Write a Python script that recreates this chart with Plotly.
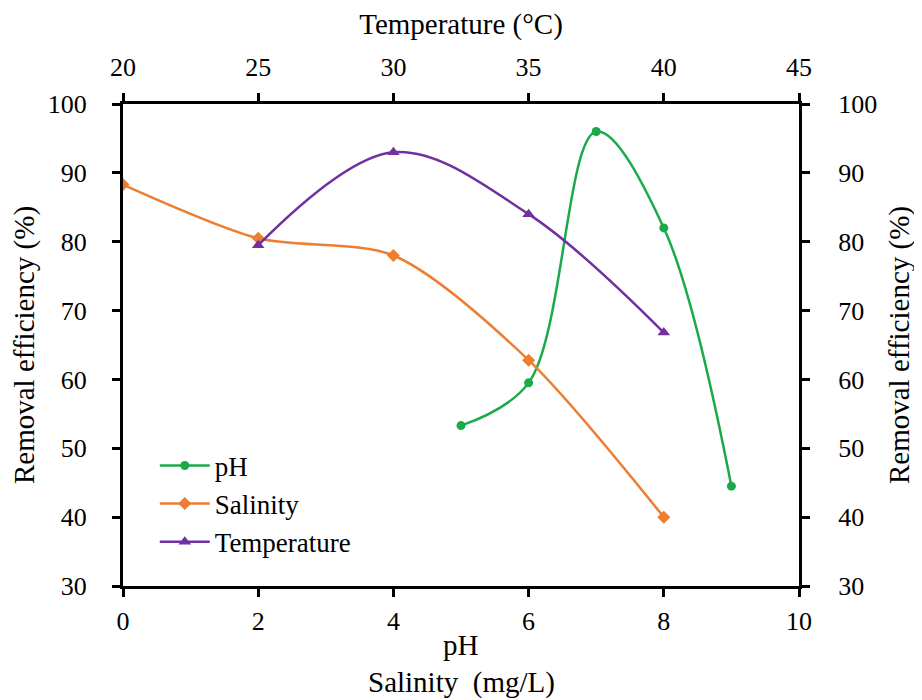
import plotly.graph_objects as go

ph_x = [5, 6, 7, 8, 9]
ph_y = [53.3, 59.5, 96.0, 82.0, 44.5]

sal_x = [0, 2, 4, 6, 8]
sal_y = [88.3, 80.5, 78.0, 62.8, 40.0]

temp_x = [25, 30, 35, 40]
temp_y = [79.5, 93.0, 84.0, 66.8]

green = "#1BAA4A"
orange = "#ED7D31"
purple = "#7030A0"
font_family = "Liberation Serif"

fig = go.Figure()
fig.add_trace(go.Scatter(x=ph_x, y=ph_y, name="pH", mode="lines+markers",
                         line=dict(color=green, width=2.5, shape="spline", smoothing=1.0),
                         marker=dict(symbol="circle", size=9, color=green)))
fig.add_trace(go.Scatter(x=sal_x, y=sal_y, name="Salinity", mode="lines+markers",
                         line=dict(color=orange, width=2.5, shape="spline", smoothing=0.8),
                         marker=dict(symbol="diamond", size=10, color=orange)))
fig.add_trace(go.Scatter(x=temp_x, y=temp_y, name="Temperature", mode="lines+markers",
                         xaxis="x2", yaxis="y2",
                         line=dict(color=purple, width=2.5, shape="spline", smoothing=1.0),
                         marker=dict(symbol="triangle-up", size=11, color=purple)))

axis_common = dict(showline=True, linecolor="black", linewidth=3, ticks="outside",
                   ticklen=8, tickwidth=3, tickcolor="black", showgrid=False,
                   zeroline=False, tickfont=dict(size=26, color="black", family=font_family))

title_font = dict(size=29, family=font_family, color="black")

fig.update_layout(
    width=922, height=700,
    paper_bgcolor="white", plot_bgcolor="white",
    margin=dict(l=115, r=131, t=96, b=122, autoexpand=False),
    font=dict(family=font_family, color="black", size=26),
    xaxis=dict(range=[0, 10], dtick=2, **axis_common, ticklabelstandoff=2),
    xaxis2=dict(range=[20, 45], dtick=5, overlaying="x", side="top", **axis_common,
                ticklabelstandoff=7,
                title=dict(text="Temperature (°C)", font=title_font, standoff=10)),
    yaxis=dict(range=[30, 100], dtick=10, **axis_common, ticklabelstandoff=20,
               title=dict(text="Removal efficiency (%)", font=title_font, standoff=11)),
    yaxis2=dict(range=[30, 100], dtick=10, overlaying="y", side="right", **axis_common,
                ticklabelstandoff=23,
                title=dict(text="Removal efficiency (%)", font=title_font, standoff=13)),
    legend=dict(x=0.047, y=0.30, xanchor="left", yanchor="top", bgcolor="rgba(0,0,0,0)",
                font=dict(size=27, family=font_family), tracegroupgap=0, itemwidth=50),
    showlegend=True,
    annotations=[
        dict(text="pH", xref="paper", yref="paper", x=0.5, y=-0.1224,
             xanchor="center", yanchor="middle", showarrow=False, font=title_font),
        dict(text="Salinity  (mg/L)", xref="paper", yref="paper", x=0.5, y=-0.2012,
             xanchor="center", yanchor="middle", showarrow=False, font=title_font),
    ],
)

fig.write_html("out.html")
